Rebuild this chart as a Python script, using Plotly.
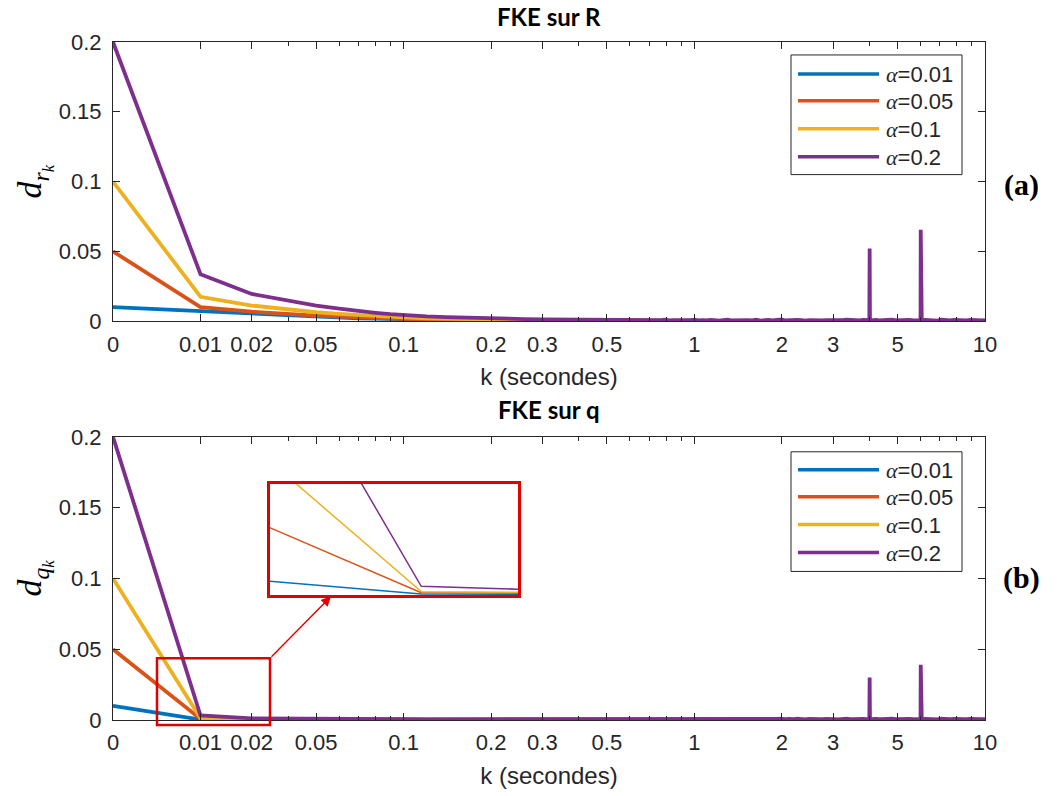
import math
import plotly.graph_objects as go

# ---------------- data ----------------
# sample index k (log axis); tick labels give the time in seconds
k_early = [1, 2, 3, 4, 5, 6, 7, 8, 9, 10, 12, 14, 16, 18, 20, 23, 26, 30, 35, 40, 45, 50]
k_flat = [100, 200, 400, 700, 1000]
k_tail = [55, 57, 59, 61, 63, 65, 67, 69, 72, 74,
          77, 79, 82, 85, 88, 91, 94, 97, 100, 103,
          107, 110, 114, 118, 122, 126, 130, 134, 139, 143,
          148, 153, 158, 163, 169, 174, 180, 186, 192, 199,
          205, 212, 219, 226, 234, 241, 249, 258, 266, 275,
          284, 294, 303, 313, 324, 334, 346, 357, 369, 381,
          394, 400, 401, 402, 407, 420, 434, 449, 464, 479,
          495, 511, 528, 546, 564, 583, 596, 600, 601, 602,
          606, 622, 643, 664, 686, 709, 733, 757, 782, 808,
          835, 862, 891, 920, 951, 982, 1000]

alphas = ["0.01", "0.05", "0.1", "0.2"]

# (a) FKE sur R
a_001 = [0.0100, 0.0070, 0.0052, 0.0040, 0.0032, 0.0026, 0.0021, 0.0018, 0.0015, 0.0013, 0.0010,
         0.0008, 0.0006, 0.0005, 0.0004, 0.0003, 0.0003, 0.0002, 0.0002, 0.0001, 0.0001, 0.0001]
a_005 = [0.0500, 0.0100, 0.0068, 0.0050, 0.0040, 0.0033, 0.0027, 0.0023, 0.0020, 0.0017, 0.0013,
         0.0010, 0.0008, 0.0007, 0.0006, 0.0005, 0.0004, 0.0003, 0.0003, 0.0002, 0.0002, 0.0002]
a_01 = [0.1000, 0.0175, 0.0112, 0.0082, 0.0064, 0.0052, 0.0043, 0.0036, 0.0031, 0.0027, 0.0021,
        0.0017, 0.0014, 0.0012, 0.0010, 0.0008, 0.0007, 0.0006, 0.0005, 0.0004, 0.0004, 0.0003]
a_02 = [0.2000, 0.0336, 0.0195, 0.0145, 0.0112, 0.0090, 0.0072, 0.0060, 0.0050, 0.0042, 0.0034,
        0.0029, 0.0025, 0.0022, 0.0020, 0.0017, 0.0015, 0.0013, 0.0011, 0.0010, 0.0009, 0.0008]
a_flat = [0.0002, 0.0002, 0.0002, 0.0003, 0.0002]
a_tail = [0.0008, 0.0007, 0.0009, 0.0006, 0.0008, 0.0005, 0.0009, 0.0006, 0.0008, 0.0004,
          0.0007, 0.0010, 0.0005, 0.0008, 0.0006, 0.0009, 0.0004, 0.0007, 0.0011, 0.0006,
          0.0008, 0.0005, 0.0009, 0.0006, 0.0004, 0.0008, 0.0010, 0.0005, 0.0007, 0.0009,
          0.0005, 0.0008, 0.0006, 0.0010, 0.0004, 0.0007, 0.0009, 0.0005, 0.0008, 0.0012,
          0.0006, 0.0008, 0.0005, 0.0009, 0.0007, 0.0004, 0.0008, 0.0006, 0.0010, 0.0005,
          0.0008, 0.0006, 0.0009, 0.0004, 0.0007, 0.0010, 0.0006, 0.0008, 0.0005, 0.0009,
          0.0006, 0.0007, 0.0520, 0.0008, 0.0005, 0.0009, 0.0006, 0.0008, 0.0004, 0.0010,
          0.0006, 0.0008, 0.0005, 0.0009, 0.0007, 0.0005, 0.0008, 0.0006, 0.0655, 0.0007,
          0.0005, 0.0009, 0.0006, 0.0008, 0.0004, 0.0010, 0.0007, 0.0005, 0.0009, 0.0006,
          0.0008, 0.0005, 0.0009, 0.0006, 0.0008, 0.0005, 0.0007]

# (b) FKE sur q
b_001 = [0.0100, 0.0003, 0.0002, 0.0002, 0.0002, 0.0002, 0.0002, 0.0002, 0.0002, 0.0002, 0.0002,
         0.0002, 0.0002, 0.0002, 0.0002, 0.0002, 0.0002, 0.0002, 0.0002, 0.0002, 0.0002, 0.0002]
b_005 = [0.0500, 0.0008, 0.0005, 0.0004, 0.0003, 0.0003, 0.0003, 0.0003, 0.0003, 0.0003, 0.0003,
         0.0003, 0.0003, 0.0003, 0.0003, 0.0003, 0.0003, 0.0003, 0.0003, 0.0003, 0.0003, 0.0003]
b_01 = [0.1000, 0.0012, 0.0007, 0.0005, 0.0004, 0.0004, 0.0003, 0.0003, 0.0003, 0.0003, 0.0003,
        0.0003, 0.0003, 0.0003, 0.0003, 0.0003, 0.0003, 0.0003, 0.0003, 0.0003, 0.0003, 0.0003]
b_02 = [0.2000, 0.0032, 0.0012, 0.0009, 0.0008, 0.0007, 0.0007, 0.0006, 0.0006, 0.0006, 0.0005,
        0.0005, 0.0005, 0.0005, 0.0005, 0.0004, 0.0004, 0.0004, 0.0004, 0.0004, 0.0004, 0.0004]
b_flat = [0.0002, 0.0002, 0.0002, 0.0002, 0.0002]
b_tail = [0.0004, 0.0004, 0.0005, 0.0004, 0.0004, 0.0005, 0.0004, 0.0004, 0.0005, 0.0004,
          0.0004, 0.0005, 0.0004, 0.0005, 0.0004, 0.0005, 0.0004, 0.0004, 0.0006, 0.0004,
          0.0007, 0.0003, 0.0006, 0.0004, 0.0003, 0.0007, 0.0005, 0.0003, 0.0006, 0.0008,
          0.0004, 0.0007, 0.0003, 0.0008, 0.0004, 0.0006, 0.0009, 0.0004, 0.0007, 0.0010,
          0.0005, 0.0007, 0.0004, 0.0009, 0.0006, 0.0003, 0.0007, 0.0005, 0.0009, 0.0004,
          0.0007, 0.0005, 0.0008, 0.0003, 0.0006, 0.0009, 0.0005, 0.0007, 0.0004, 0.0008,
          0.0005, 0.0006, 0.0300, 0.0007, 0.0004, 0.0008, 0.0005, 0.0007, 0.0003, 0.0009,
          0.0005, 0.0007, 0.0004, 0.0008, 0.0006, 0.0004, 0.0007, 0.0005, 0.0390, 0.0006,
          0.0004, 0.0008, 0.0005, 0.0007, 0.0003, 0.0009, 0.0006, 0.0004, 0.0008, 0.0005,
          0.0007, 0.0004, 0.0008, 0.0005, 0.0007, 0.0004, 0.0006]

x_tickvals = [1, 2, 3, 5, 10, 20, 30, 50, 100, 200, 300, 500, 1000]
x_ticktext = ["0", "0.01", "0.02", "0.05", "0.1", "0.2", "0.3", "0.5", "1", "2", "3", "5", "10"]
x_minor = [4, 6, 7, 8, 9, 40, 60, 70, 80, 90, 400, 600, 700, 800, 900]
y_tickvals = [0, 0.05, 0.1, 0.15, 0.2]
y_ticktext = ["0", "0.05", "0.1", "0.15", "0.2"]
zoom_k = (1.42, 2.49)          # zoomed window (sample index)
zoom_y = (-0.0002, 0.0416)

# ---------------- style ----------------
COLORS = ["#0072BD", "#D95319", "#EDB120", "#7E2F8E"]
AX = "#262626"
RED = "#E00000"
W, H = 1058, 796
L, R, T, B = 113, 985, 42, 722
PW, PH = R - L, B - T
LW = 3.8


def px(x):
    return (x - L) / PW


def py(y):
    return (B - y) / PH


fig = go.Figure()

series_a = [a_001, a_005, a_01, a_02]
series_b = [b_001, b_005, b_01, b_02]
for i, (ya, yb) in enumerate(zip(series_a, series_b)):
    if i < 3:
        xa = k_early + k_flat
        ya_full = ya + a_flat
        yb_full = yb + b_flat
    else:
        xa = k_early + k_tail
        ya_full = ya + a_tail
        yb_full = yb + b_tail
    fig.add_trace(go.Scatter(x=xa, y=ya_full, mode="lines", name="α=" + alphas[i],
                             line=dict(color=COLORS[i], width=LW), showlegend=False,
                             xaxis="x", yaxis="y"))
    fig.add_trace(go.Scatter(x=xa, y=yb_full, mode="lines", name="α=" + alphas[i],
                             line=dict(color=COLORS[i], width=LW), showlegend=False,
                             xaxis="x2", yaxis="y2"))
    fig.add_trace(go.Scatter(x=xa, y=yb_full, mode="lines", name="α=" + alphas[i],
                             line=dict(color=COLORS[i], width=1.5), showlegend=False,
                             xaxis="x3", yaxis="y3"))

tickfont = dict(family="Liberation Sans", size=22, color=AX)


def xax(anchor, title):
    return dict(type="log", range=[0, 3], domain=[0, 1], anchor=anchor,
                tickmode="array", tickvals=x_tickvals, ticktext=x_ticktext,
                ticks="inside", ticklen=7, tickwidth=1, tickcolor=AX,
                minor=dict(tickmode="array", tickvals=x_minor, ticks="inside",
                           ticklen=4, tickwidth=1, tickcolor=AX, showgrid=False),
                showline=True, linecolor=AX, linewidth=1, mirror="allticks",
                showgrid=False, zeroline=False, tickfont=tickfont, ticklabelstandoff=3,
                title=dict(text=title, font=dict(family="Liberation Sans", size=24, color=AX),
                           standoff=12))


def yax(anchor, domain, title):
    return dict(range=[0, 0.2], domain=domain, anchor=anchor,
                tickmode="array", tickvals=y_tickvals, ticktext=y_ticktext,
                ticks="inside", ticklen=7, tickwidth=1, tickcolor=AX,
                showline=True, linecolor=AX, linewidth=1, mirror="allticks",
                showgrid=False, zeroline=False, tickfont=tickfont, ticklabelstandoff=6,
                title=dict(text=title, font=dict(family="Liberation Serif", size=34, color="#000000"),
                           standoff=6))


inset_ax = dict(showline=True, linecolor=RED, linewidth=3, mirror=True, ticks="",
                showticklabels=False, showgrid=False, zeroline=False)

fig.update_layout(
    width=W, height=H,
    margin=dict(l=L, r=W - R, t=T, b=H - B, pad=0),
    paper_bgcolor="white", plot_bgcolor="white",
    font=dict(family="Liberation Sans", color=AX),
    xaxis=xax("y", "k (secondes)"),
    yaxis=yax("x", [py(322), 1], "<i>d</i><sub><i>r</i><sub><i>k</i></sub></sub>"),
    xaxis2=xax("y2", "k (secondes)"),
    yaxis2=yax("x2", [0, py(438)], "<i>d</i><sub><i>q</i><sub><i>k</i></sub></sub>"),
    xaxis3=dict(type="log", domain=[px(270), px(518)], anchor="y3",
                range=[math.log10(zoom_k[0]), math.log10(zoom_k[1])], **inset_ax),
    yaxis3=dict(domain=[py(597), py(485)], anchor="x3", range=list(zoom_y), **inset_ax),
    showlegend=False,
)

shapes = []
annotations = []

# titles
for text, ypix in [("FKE sur R", 16), ("FKE sur q", 411)]:
    annotations.append(dict(text="<b>" + text + "</b>", xref="paper", yref="paper",
                            x=0.5, y=py(ypix), xanchor="center", yanchor="middle",
                            showarrow=False, font=dict(family="Lato", size=24, color="#000000")))

# (a)/(b) labels
for text, ypix in [("(a)", 185), ("(b)", 580)]:
    annotations.append(dict(text="<b>" + text + "</b>", xref="paper", yref="paper",
                            x=px(1021), y=py(ypix), xanchor="center", yanchor="middle",
                            showarrow=False, font=dict(family="Liberation Serif", size=30, color="#000000")))

# manual legends
for top, bottom, rows in [(55, 175, [74, 101, 129, 157]), (453, 573, [471, 498, 526, 554])]:
    shapes.append(dict(type="rect", xref="paper", yref="paper", x0=px(791), x1=px(962),
                       y0=py(bottom), y1=py(top), line=dict(color=AX, width=1), fillcolor="white",
                       layer="above"))
    for i, ypix in enumerate(rows):
        shapes.append(dict(type="line", xref="paper", yref="paper", x0=px(798), x1=px(879),
                           y0=py(ypix), y1=py(ypix), line=dict(color=COLORS[i], width=3.5)))
        annotations.append(dict(text="<span style='font-family:Liberation Serif'><i>α</i></span>=" + alphas[i],
                                xref="paper", yref="paper", x=px(884), y=py(ypix + 1),
                                xanchor="left", yanchor="middle", showarrow=False,
                                font=dict(family="Liberation Sans", size=22, color=AX)))

# zoom box on (b) and arrow to the inset
shapes.append(dict(type="rect", xref="paper", yref="paper", x0=px(157), x1=px(270),
                   y0=py(727), y1=py(660), line=dict(color=RED, width=2.5)))
annotations.append(dict(text="", xref="paper", yref="paper", x=px(331), y=py(598),
                        ax=-61, ay=62, showarrow=True, arrowhead=2, arrowsize=1.4,
                        arrowwidth=1.4, arrowcolor=RED))

fig.update_layout(shapes=shapes, annotations=annotations)
fig.write_html("out.html")
